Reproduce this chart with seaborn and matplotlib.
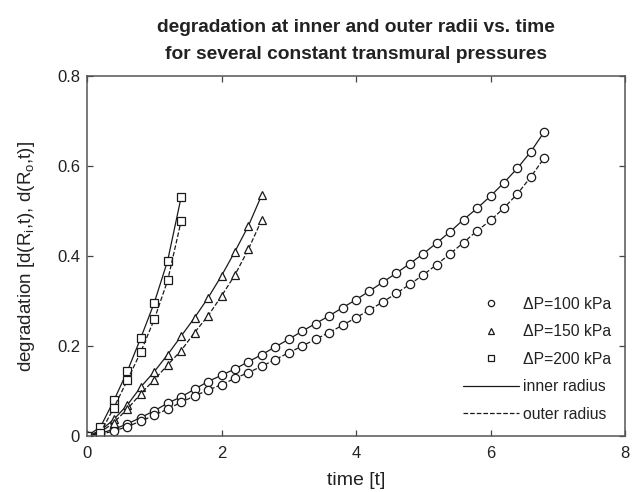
import matplotlib
matplotlib.use("Agg")
import matplotlib.pyplot as plt
from matplotlib.lines import Line2D
import seaborn as sns
import pandas as pd

# ---------------- data ----------------
t_100 = [0.0, 0.2, 0.4, 0.6, 0.8, 1.0, 1.2, 1.4, 1.6, 1.8, 2.0, 2.2, 2.4, 2.6, 2.8,
         3.0, 3.2, 3.4, 3.6, 3.8, 4.0, 4.2, 4.4, 4.6, 4.8, 5.0, 5.2, 5.4, 5.6, 5.8,
         6.0, 6.2, 6.4, 6.6, 6.8]
inner_100 = [0.000, 0.006, 0.015, 0.027, 0.041, 0.056, 0.073, 0.087, 0.104, 0.121,
             0.135, 0.149, 0.165, 0.181, 0.198, 0.215, 0.233, 0.250, 0.267, 0.285,
             0.303, 0.322, 0.342, 0.362, 0.383, 0.405, 0.429, 0.454, 0.481, 0.506,
             0.533, 0.563, 0.595, 0.632, 0.676]
outer_100 = [0.000, 0.004, 0.011, 0.021, 0.033, 0.046, 0.060, 0.075, 0.089, 0.102,
             0.114, 0.128, 0.141, 0.155, 0.170, 0.185, 0.200, 0.215, 0.230, 0.246,
             0.263, 0.280, 0.298, 0.317, 0.337, 0.358, 0.381, 0.405, 0.430, 0.456,
             0.479, 0.507, 0.538, 0.576, 0.618]

t_150 = [0.0, 0.2, 0.4, 0.6, 0.8, 1.0, 1.2, 1.4, 1.6, 1.8, 2.0, 2.2, 2.4, 2.6]
inner_150 = [0.000, 0.012, 0.037, 0.069, 0.109, 0.143, 0.181, 0.222, 0.263, 0.307,
             0.356, 0.410, 0.467, 0.536]
outer_150 = [0.000, 0.008, 0.030, 0.060, 0.094, 0.125, 0.158, 0.190, 0.230, 0.267,
             0.311, 0.358, 0.415, 0.481]

t_200 = [0.0, 0.2, 0.4, 0.6, 0.8, 1.0, 1.2, 1.4]
inner_200 = [0.000, 0.020, 0.079, 0.144, 0.218, 0.296, 0.390, 0.531]
outer_200 = [0.000, 0.007, 0.063, 0.124, 0.187, 0.259, 0.346, 0.478]

pressure_labels = ["\u0394P=100 kPa", "\u0394P=150 kPa", "\u0394P=200 kPa"]
radius_labels = ["inner radius", "outer radius"]
x_ticks = [0, 2, 4, 6, 8]
y_ticks = [0, 0.2, 0.4, 0.6, 0.8]
y_tick_labels = ["0", "0.2", "0.4", "0.6", "0.8"]

title = "degradation at inner and outer radii vs. time\nfor several constant transmural pressures"
x_label = "time [t]"
y_label = "degradation [d(R$_i$,t), d(R$_o$,t)]"

# ---------------- styling ----------------
sns.set_theme(style="white")
plt.rcParams["font.family"] = ["Liberation Sans", "DejaVu Sans"]
plt.rcParams["mathtext.fontset"] = "custom"
plt.rcParams["mathtext.rm"] = "Liberation Sans"
plt.rcParams["mathtext.it"] = "Liberation Sans"

fig = plt.figure(figsize=(6.34, 4.92), dpi=100)
L, R, T, B = 87, 625, 76, 436
ax = fig.add_axes([L / 634, 1 - B / 492, (R - L) / 634, (B - T) / 492])

markers = ["o", "^", "s"]
series = [
    (t_100, inner_100, outer_100),
    (t_150, inner_150, outer_150),
    (t_200, inner_200, outer_200),
]
ink = "#1a1a1a"
for (tt, inn, out), mk in zip(series, markers):
    df = pd.DataFrame({"t": tt, "inner": inn, "outer": out})
    for col, ls in (("inner", "-"), ("outer", "--")):
        sns.lineplot(data=df, x="t", y=col, ax=ax, color=ink, linewidth=0.9,
                     linestyle=ls, marker=mk, markersize=6,
                     markerfacecolor="white", markeredgecolor=ink,
                     markeredgewidth=0.9, estimator=None, sort=False)

ax.set_xlim(0, 8)
ax.set_ylim(0, 0.8)
ax.set_xticks(x_ticks)
ax.set_xticklabels([str(v) for v in x_ticks])
ax.set_yticks(y_ticks)
ax.set_yticklabels(y_tick_labels)
ax.tick_params(direction="in", length=4, width=0.9, colors="#444444",
               labelcolor="#222222", labelsize=12, top=True, right=True,
               bottom=True, left=True)
ax.tick_params(axis="x", pad=7)
ax.tick_params(axis="y", pad=5)
for sp in ax.spines.values():
    sp.set_color("#555555")
    sp.set_linewidth(1.1)

ax.set_xlabel(x_label, fontsize=14, color="#222222", labelpad=8)
ax.set_ylabel(y_label, fontsize=13.5, color="#222222", labelpad=14)
ax.set_title(title, fontsize=13.8, fontweight="bold", color="#222222",
             linespacing=1.8, pad=12)

handles = [Line2D([], [], linestyle="none", marker=m, markersize=4.5,
                  markerfacecolor="white", markeredgecolor=ink, markeredgewidth=0.9)
           for m in markers]
handles += [Line2D([], [], color=ink, linestyle="-", linewidth=0.9),
            Line2D([], [], color=ink, linestyle="--", linewidth=0.9)]
ax.legend(handles, pressure_labels + radius_labels, loc="lower right",
          frameon=False, fontsize=11.3, handlelength=3.6, handletextpad=0.2,
          labelspacing=0.8, borderaxespad=0.5, labelcolor="#222222")

fig.savefig("out.png", dpi=100)
